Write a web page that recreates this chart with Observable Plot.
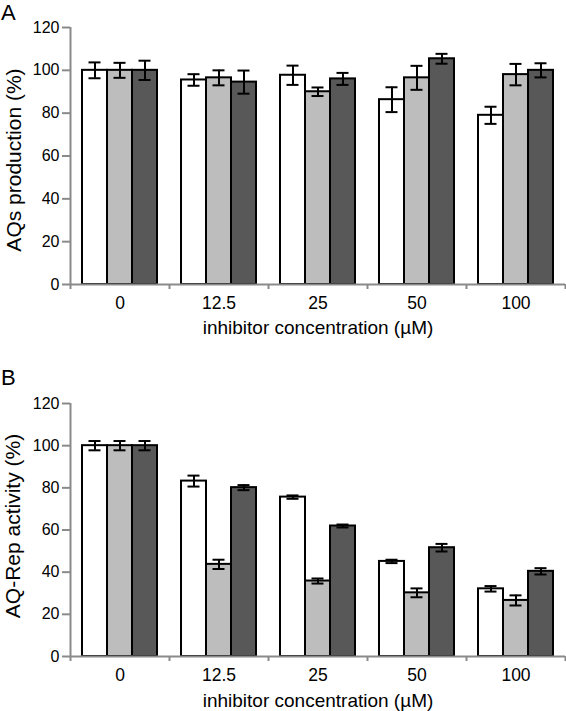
<!DOCTYPE html>
<html><head><meta charset="utf-8">
<script src="https://cdn.jsdelivr.net/npm/d3@7"></script>
<script src="https://cdn.jsdelivr.net/npm/@observablehq/plot@0.6"></script>
<style>
body{margin:0;background:#fff;font-family:"Liberation Sans",Arial,sans-serif;}
#wrap{position:relative;width:566px;height:711px;overflow:hidden;}
.panel{position:absolute;left:0;}
.letter{position:absolute;left:1px;font-size:22px;line-height:normal;color:#000;}
.title{position:absolute;white-space:nowrap;font-size:19px;line-height:19px;color:#000;transform:translate(-50%,-50%);}
.title.rot{font-size:21px;line-height:21px;transform:translate(-50%,-50%) rotate(-90deg);}
</style></head><body><div id="wrap"></div>
<script>
// categories (x axis)
const concentrations = ["0", "12.5", "25", "50", "100"];
// three series per concentration (white, light grey, dark grey bars)
const series = ["series 1", "series 2", "series 3"];
const seriesColors = ["#ffffff", "#bdbdbd", "#585858"];
const yTicks = [0, 20, 40, 60, 80, 100, 120];

// Panel A: AQs production (%)
const aqsS1 = [100, 95.5, 97.7, 86.3, 79.0];
const aqsS1Err = [3.7, 2.7, 4.5, 5.8, 4.0];
const aqsS2 = [100, 96.5, 90.0, 96.5, 98.0];
const aqsS2Err = [3.5, 3.5, 2.0, 5.6, 5.0];
const aqsS3 = [100, 94.5, 96.0, 105.4, 100.0];
const aqsS3Err = [4.5, 5.4, 2.8, 2.3, 3.3];

// Panel B: AQ-Rep activity (%)
const repS1 = [100, 83.2, 75.6, 45.1, 32.1];
const repS1Err = [2.2, 2.6, 0.8, 0.8, 1.3];
const repS2 = [100, 43.7, 35.8, 30.2, 26.6];
const repS2Err = [2.2, 2.2, 1.2, 2.1, 2.4];
const repS3 = [100, 80.1, 61.9, 51.6, 40.4];
const repS3Err = [2.2, 1.2, 0.7, 1.8, 1.5];

const xTitle = "inhibitor concentration (µM)";
const yTitleA = "AQs production (%)";
const yTitleB = "AQ-Rep activity (%)";
const AXIS = "#8a8a8a";
const W = 566, ML = 70, MR = 1;
const FONT = "'Liberation Sans', Arial, Helvetica, sans-serif";

function panel({values, errors, height, marginTop, marginBottom}) {
  const rows = [];
  concentrations.forEach((c, i) => series.forEach((s, j) =>
    rows.push({conc: c, series: s, value: values[j][i], err: errors[j][i]})));
  const fw = (W - ML - MR) / concentrations.length;
  const mid = series[1];
  const last = concentrations[concentrations.length - 1];
  return Plot.plot({
    width: W, height, marginLeft: ML, marginRight: MR, marginTop, marginBottom,
    style: {fontFamily: FONT, background: "#fff", color: "#000", overflow: "visible"},
    fx: {domain: concentrations, padding: 0},
    x: {domain: series, paddingInner: 0, paddingOuter: 0.45, axis: null},
    y: {domain: [0, 120]},
    color: {domain: series, range: seriesColors},
    marks: [
      Plot.barY(rows, {fx: "conc", x: "series", y: "value", fill: "series", stroke: "#000", strokeWidth: 2}),
      Plot.ruleX(rows, {fx: "conc", x: "series", y1: d => d.value + d.err, y2: d => d.value - d.err, stroke: "#000", strokeWidth: 2}),
      Plot.tickY(rows, {fx: "conc", x: "series", y: d => d.value + d.err, insetLeft: 6.5, insetRight: 6.5, stroke: "#000", strokeWidth: 2}),
      Plot.tickY(rows, {fx: "conc", x: "series", y: d => d.value - d.err, insetLeft: 6.5, insetRight: 6.5, stroke: "#000", strokeWidth: 2}),
      // x axis baseline
      Plot.ruleY([0], {stroke: AXIS, strokeWidth: 2}),
      // y axis line (left edge of first group)
      Plot.ruleX([concentrations[0]], {fx: d => d, x: () => mid, y1: () => 120, y2: () => 0, dx: -fw / 2, insetBottom: -5, stroke: AXIS, strokeWidth: 2}),
      // boundary ticks between groups
      Plot.ruleX(concentrations.slice(1), {fx: d => d, x: () => mid, y1: () => 0, y2: () => 0, dx: -fw / 2, insetBottom: -5, stroke: AXIS, strokeWidth: 2}),
      Plot.ruleX([last], {fx: d => d, x: () => mid, y1: () => 0, y2: () => 0, dx: fw / 2, insetBottom: -5, stroke: AXIS, strokeWidth: 2}),
      Plot.axisY({ticks: yTicks, tickSize: 8, tickPadding: 3, fontSize: 16, stroke: AXIS, strokeWidth: 2, fill: "#000", label: null}),
      Plot.axisFx({anchor: "bottom", tickSize: 0, tickPadding: 12, fontSize: 17.5, fill: "#000", label: null})
    ]
  });
}

const wrap = document.getElementById("wrap");
function place(el, top) { el.classList.add("panel"); el.style.top = top + "px"; wrap.appendChild(el); }
function addText(cls, text, cx, cy) {
  const d = document.createElement("div"); d.className = cls; d.textContent = text;
  d.style.left = cx + "px"; d.style.top = cy + "px"; wrap.appendChild(d);
}

const a = panel({values: [aqsS1, aqsS2, aqsS3], errors: [aqsS1Err, aqsS2Err, aqsS3Err],
  height: 355, marginTop: 27, marginBottom: 71});
place(a, 0);
const b = panel({values: [repS1, repS2, repS3], errors: [repS1Err, repS2Err, repS3Err],
  height: 356, marginTop: 48, marginBottom: 55});
place(b, 355);

addText("title rot", yTitleA, 13, 160);
addText("title rot", yTitleB, 12, 526);
addText("title", xTitle, 318, 327);
addText("title", xTitle, 318, 700);

for (const [t, top] of [["A", 0], ["B", 365]]) {
  const d = document.createElement("div"); d.className = "letter"; d.style.top = top + "px"; d.textContent = t; wrap.appendChild(d);
}
</script></body></html>
